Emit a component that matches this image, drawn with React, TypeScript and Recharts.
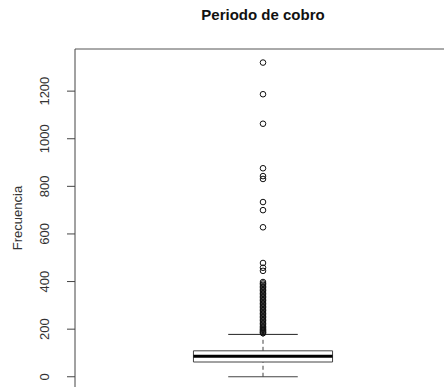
import React from 'react';
import { ComposedChart, XAxis, YAxis, Scatter, ReferenceArea, ReferenceLine } from 'recharts';

const title = 'Periodo de cobro';
const yLabel = 'Frecuencia';
const yTicks = [0, 200, 400, 600, 800, 1000, 1200];
const yDomain = [-43, 1377];
const xDomain = [0.5, 1.5];

// five-number summary (lower whisker, Q1, median, Q3, upper whisker)
const whiskerLow = 0;
const q1 = 62;
const median = 86;
const q3 = 109;
const whiskerHigh = 178;

const outlierValues = [
  1320, 1187, 1063, 876, 843, 831, 734, 700, 628, 478, 458, 445,
  398, 392, 386, 380, 374, 368, 362, 356, 350, 344, 338, 332, 326, 320,
  314, 308, 302, 296, 290, 284, 278, 272, 266, 260, 254, 248, 242, 236,
  230, 224, 218, 212, 206, 201, 197, 193, 189, 186, 183,
];

const boxPos = 1;
const boxHalf = 0.185;
const capHalf = 0.0925;

const outlierData = outlierValues.map((v) => ({ x: boxPos, y: v }));

const FONT = '"Liberation Sans", Arial, Helvetica, sans-serif';

const YTick = (props: any) => {
  const { x, y, payload } = props;
  const bx = x - 16;
  return (
    <text
      x={bx}
      y={y}
      transform={`rotate(-90, ${bx}, ${y})`}
      textAnchor="middle"
      fontSize={13}
      fill="#333"
      fontFamily={FONT}
    >
      {payload.value}
    </text>
  );
};

const YLabel = (props: any) => {
  const vb = props.viewBox || { x: 0, y: 49, width: 75, height: 338 };
  const cy = vb.y + vb.height / 2;
  const cx = 22;
  return (
    <text
      x={cx}
      y={cy}
      transform={`rotate(-90, ${cx}, ${cy})`}
      textAnchor="middle"
      fontSize={13}
      fill="#333"
      fontFamily={FONT}
    >
      {yLabel}
    </text>
  );
};

const Circle = (p: any) => (
  <circle cx={p.cx} cy={p.cy} r={2.8} fill="none" stroke="#111" strokeWidth={1} />
);

export default function App() {
  return (
    <div
      style={{
        position: 'absolute',
        left: 0,
        top: 0,
        width: 444,
        height: 387,
        overflow: 'hidden',
        background: '#fff',
      }}
    >
      <div
        style={{
          position: 'absolute',
          left: 75,
          width: 376,
          top: 6,
          textAlign: 'center',
          fontFamily: FONT,
          fontWeight: 'bold',
          fontSize: 15,
          color: '#111',
        }}
      >
        {title}
      </div>
      <ComposedChart
        width={451}
        height={387}
        margin={{ top: 49, right: 0, bottom: 0, left: 0 }}
      >
        <XAxis
          type="number"
          dataKey="x"
          domain={xDomain}
          hide
          allowDataOverflow
        />
        <YAxis
          type="number"
          dataKey="y"
          domain={yDomain}
          ticks={yTicks}
          allowDataOverflow
          width={75}
          tickSize={8}
          tickMargin={2}
          tick={<YTick />}
          axisLine={{ stroke: '#444' }}
          tickLine={{ stroke: '#444' }}
          label={{ content: <YLabel /> }}
        />
        <ReferenceLine y={yDomain[1]} stroke="#555" strokeWidth={1} />
        {/* whiskers */}
        <ReferenceLine
          segment={[{ x: boxPos, y: q3 }, { x: boxPos, y: whiskerHigh }]}
          stroke="#444"
          strokeDasharray="4 3"
        />
        <ReferenceLine
          segment={[{ x: boxPos, y: whiskerLow }, { x: boxPos, y: q1 }]}
          stroke="#444"
          strokeDasharray="4 3"
        />
        <ReferenceLine
          segment={[{ x: boxPos - capHalf, y: whiskerHigh }, { x: boxPos + capHalf, y: whiskerHigh }]}
          stroke="#222"
        />
        <ReferenceLine
          segment={[{ x: boxPos - capHalf, y: whiskerLow }, { x: boxPos + capHalf, y: whiskerLow }]}
          stroke="#444"
        />
        {/* box */}
        <ReferenceArea
          x1={boxPos - boxHalf}
          x2={boxPos + boxHalf}
          y1={q1}
          y2={q3}
          fill="#fff"
          fillOpacity={1}
          stroke="#444"
          strokeWidth={1}
        />
        <ReferenceLine
          segment={[{ x: boxPos - boxHalf, y: median }, { x: boxPos + boxHalf, y: median }]}
          stroke="#000"
          strokeWidth={3}
        />
        <Scatter
          data={outlierData}
          dataKey="y"
          shape={<Circle />}
          isAnimationActive={false}
        />
      </ComposedChart>
    </div>
  );
}
